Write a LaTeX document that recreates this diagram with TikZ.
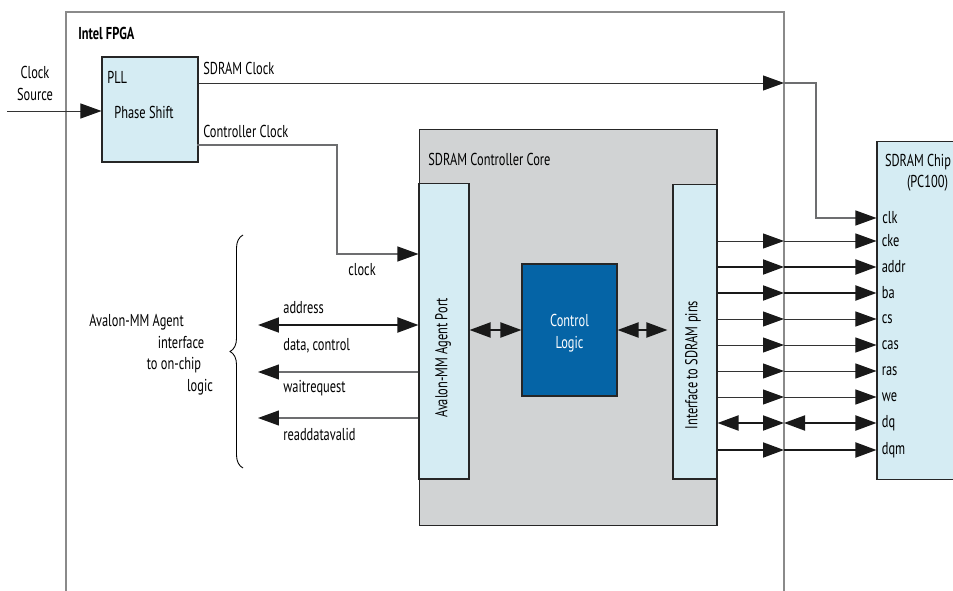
\documentclass[tikz,border=0pt]{standalone}
\usepackage{fontspec}
\setmainfont[FakeStretch=0.72]{PT Sans}
\usepackage{tikz}
\usetikzlibrary{arrows.meta,positioning,decorations.pathreplacing}
\definecolor{pinblue}{HTML}{D5ECF3}
\definecolor{coregray}{HTML}{D1D3D4}
\definecolor{logicblue}{HTML}{0564A6}
\definecolor{wiregray}{HTML}{6D6E70}
\definecolor{framegray}{HTML}{8A8A8A}
\tikzset{
    block/.style={rectangle, draw=black!85, line width=0.6pt, fill=pinblue, inner sep=0pt},
    lbl/.style={font=\fontsize{9.8}{12.5}\selectfont, inner sep=0pt},
    thinwire/.style={draw=black!80, line width=0.55pt},
    thickwire/.style={draw=black!90, line width=1.1pt},
    graywire/.style={draw=wiregray, line width=0.6pt},
    tip/.style={-{Triangle[length=4.2mm,width=3mm,color=black!90]}},
    dtip/.style={{Triangle[length=4.2mm,width=3mm,color=black!90]}-{Triangle[length=4.2mm,width=3mm,color=black!90]}}
}

\begin{document}
\begin{tikzpicture}[x=0.02cm,y=-0.02cm]
    \useasboundingbox (0,0) rectangle (953,591);
    % FPGA frame
    \draw[framegray, line width=0.85pt] (66,591) |- (784,12) -- (784,591);
    \node[lbl, anchor=west, font=\fontsize{9.8}{10}\bfseries] at (78,33) (fpga) {Intel FPGA};

    % blocks
    \node[block, minimum width=1.92cm, minimum height=2.1cm] at (150,109.5) (pll) {};
    \node[lbl, anchor=west] at (107,77) (plltxt) {PLL};
    \node[lbl] at (144,112) (phase) {Phase Shift};
    \node[block, fill=coregray, minimum width=5.96cm, minimum height=7.94cm] at (568,327.5) (core) {};
    \node[lbl, anchor=west] at (428,159) (coretxt) {SDRAM Controller Core};
    \node[block, minimum width=1.0cm, minimum height=5.92cm] at (444,331) (avalon) {};
    \node[lbl, rotate=90] at (443,358) (avatxt) {Avalon-MM Agent Port};
    \node[block, fill=logicblue, minimum width=1.9cm, minimum height=2.64cm] at (569.5,330) (ctrl) {};
    \node[lbl, text=white, align=center] at (569.5,333) (ctrltxt) {Control\\Logic};
    \node[block, minimum width=0.88cm, minimum height=5.9cm] at (695,331.5) (iface) {};
    \node[lbl, rotate=90] at (693,365) (ifacetxt) {Interface to SDRAM pins};
    \node[block, minimum width=1.66cm, minimum height=6.78cm] at (918.5,310.5) (chip) {};
    \node[lbl] at (918,162) (chiptxt) {SDRAM Chip};
    \node[lbl] at (927.5,183) (pctxt) {(PC100)};

    % clocks
    \node[lbl, align=center] at (35,83) (src) {Clock\\Source};
    \coordinate (clksrc) at (7,111);
    \draw[thinwire,tip] (clksrc) -- (pll.west |- clksrc);
    \coordinate (sclk) at (784,83);
    \coordinate (clkbend) at (816,218);
    \draw[thinwire,tip] (pll.east |- sclk) -- (sclk);
    \draw[graywire,tip] (sclk) -| (clkbend) -- (chip.west |- clkbend);
    \node[lbl, anchor=west] at (203,68) {SDRAM Clock};
    \coordinate (ccout) at (197,145);
    \coordinate (ccbend) at (337,254);
    \draw[graywire,tip] (ccout) -| (ccbend) -- (avalon.west |- ccbend);
    \node[lbl, anchor=west] at (203,131) {Controller Clock};
    \node[lbl] at (362,270) {clock};
    \node[lbl, anchor=west] at (882,218) {clk};

    % Avalon-MM side
    \coordinate (adr) at (258,325);
    \coordinate (wrq) at (258,372);
    \coordinate (rdv) at (258,418);
    \draw[thickwire,dtip] (adr) -- (avalon.west |- adr);
    \draw[graywire,tip] (avalon.west |- wrq) -- (wrq);
    \draw[graywire,tip] (avalon.west |- rdv) -- (rdv);
    \node[lbl, anchor=west] at (283,308) {address};
    \node[lbl, anchor=west] at (283,346) {data, control};
    \node[lbl, anchor=west] at (283,388) {waitrequest};
    \node[lbl, anchor=west] at (283,435) {readdatavalid};
    \draw[line width=0.5pt, decorate, decoration={brace, amplitude=2.6mm}] (243,468) -- (243,235);
    \node[lbl] at (136.5,322) {Avalon-MM Agent};
    \node[lbl] at (181,343) {interface};
    \node[lbl] at (174,365) {to on-chip};
    \node[lbl] at (200,387) {logic};

    % inside the core
    \draw[thickwire,dtip] (avalon.east |- ctrl.west) -- (ctrl.west);
    \draw[thickwire,dtip] (ctrl.east) -- ([xshift=-1mm]iface.west |- ctrl.east);

    % SDRAM pins
    \foreach \pin/\py/\wt/\ar in {cke/241/thinwire/tip, addr/267/thickwire/tip, ba/293/thickwire/tip,
        cs/319/thinwire/tip, cas/345/thinwire/tip, ras/371/thinwire/tip, we/397/thinwire/tip,
        dq/423/thickwire/dtip, dqm/450/thickwire/tip}
    {
        \coordinate (b-\pin) at (784,\py);
        \draw[\wt,\ar] (iface.east |- b-\pin) -- (b-\pin);
        \draw[\wt,\ar] (b-\pin) -- (chip.west |- b-\pin);
        \node[lbl, anchor=west] at ([xshift=1mm]chip.west |- b-\pin) {\pin};
    }
\end{tikzpicture}
\end{document}
